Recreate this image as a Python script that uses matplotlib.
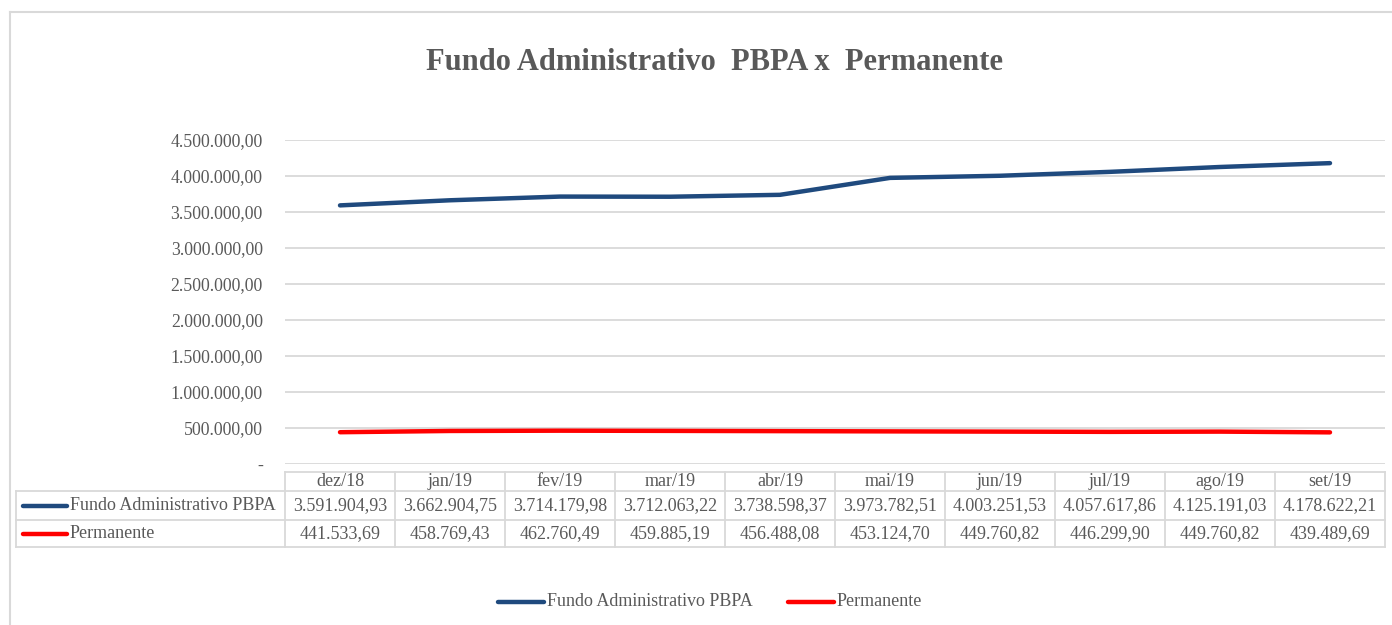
import matplotlib
matplotlib.use("Agg")
import matplotlib.pyplot as plt
from matplotlib.lines import Line2D

# chart data
months = ["dez/18", "jan/19", "fev/19", "mar/19", "abr/19", "mai/19",
          "jun/19", "jul/19", "ago/19", "set/19"]
fundo = [3591904.93, 3662904.75, 3714179.98, 3712063.22, 3738598.37,
         3973782.51, 4003251.53, 4057617.86, 4125191.03, 4178622.21]
permanente = [441533.69, 458769.43, 462760.49, 459885.19, 456488.08,
              453124.70, 449760.82, 446299.90, 449760.82, 439489.69]
series_names = ["Fundo Administrativo PBPA", "Permanente"]
y_ticks = [0, 500000, 1000000, 1500000, 2000000, 2500000, 3000000,
           3500000, 4000000, 4500000]

W, H = 1392, 625
BLUE = "#1f4a7e"
RED = "#ff0000"
GREY = "#595959"
GRID = "#d9d9d9"
FONT = "Liberation Serif"
FS = 13

plt.rcParams["font.family"] = FONT


def br(v):
    # brazilian number format 1.234.567,89
    s = f"{v:,.2f}"
    return s.replace(",", "X").replace(".", ",").replace("X", ".")


def fx(px):
    return px / W


def fy(py):
    return 1 - py / H


fig = plt.figure(figsize=(W / 100, H / 100), dpi=100)

# outer chart border
fig.add_artist(Line2D([fx(10), fx(W)], [fy(12), fy(12)], color=GRID, lw=1.5))
fig.add_artist(Line2D([fx(10), fx(10)], [fy(12), fy(H)], color=GRID, lw=1.5))

fig.text(fx(714), fy(62), "Fundo Administrativo  PBPA x  Permanente",
         ha="center", va="center", fontsize=22, fontweight="bold", color=GREY)

left, right, top, bottom = 285, 1385, 140, 464
ax = fig.add_axes([fx(left), fy(bottom), fx(right - left), (bottom - top) / H])
x = list(range(len(months)))
ax.plot(x, fundo, color=BLUE, lw=3.2, solid_capstyle="round", zorder=3)
ax.plot(x, permanente, color=RED, lw=3.2, solid_capstyle="round", zorder=3)
ax.set_xlim(-0.5, len(months) - 0.5)
ax.set_ylim(0, 4500000)
ax.set_yticks(y_ticks)
ax.set_yticklabels(["-"] + [br(v) for v in y_ticks[1:]])
ax.set_xticks([])
ax.tick_params(axis="y", length=0, pad=16, labelsize=12.8, labelcolor=GREY)
for lab in ax.get_yticklabels():
    lab.set_fontfamily(FONT)
ax.grid(axis="y", color=GRID, lw=1.3)
ax.set_axisbelow(True)
for s in ax.spines.values():
    s.set_visible(False)

# data table under the chart
col_w = (right - left) / len(months)
r_head, r1, r2, r_end = 472, 491, 520, 547
tleft = 16


def hline(x0, x1, y):
    fig.add_artist(Line2D([fx(x0), fx(x1)], [fy(y), fy(y)], color=GRID, lw=1.3))


def vline(xp, y0, y1):
    fig.add_artist(Line2D([fx(xp), fx(xp)], [fy(y0), fy(y1)], color=GRID, lw=1.3))


hline(left, right, r_head)
hline(tleft, right, r1)
hline(tleft, right, r2)
hline(tleft, right, r_end)
vline(tleft, r1, r_end)
for i in range(len(months) + 1):
    vline(left + i * col_w, r_head, r_end)

for i, m in enumerate(months):
    cx = left + (i + 0.5) * col_w
    fig.text(fx(cx), fy((r_head + r1) / 2), m, ha="center", va="center",
             fontsize=FS, color=GREY)
    fig.text(fx(cx), fy((r1 + r2) / 2), br(fundo[i]), ha="center", va="center",
             fontsize=FS, color=GREY)
    fig.text(fx(cx), fy((r2 + r_end) / 2), br(permanente[i]), ha="center",
             va="center", fontsize=FS, color=GREY)

for (yc, col, name) in [((r1 + r2) / 2, BLUE, series_names[0]),
                        ((r2 + r_end) / 2, RED, series_names[1])]:
    fig.add_artist(Line2D([fx(23), fx(67)], [fy(yc), fy(yc)], color=col, lw=3.2,
                          solid_capstyle="round"))
    fig.text(fx(70), fy(yc), name, ha="left", va="center", fontsize=FS, color=GREY)

# legend at bottom
ly = 602
for (x0, col, name) in [(498, BLUE, series_names[0]), (788, RED, series_names[1])]:
    fig.add_artist(Line2D([fx(x0), fx(x0 + 46)], [fy(ly), fy(ly)], color=col, lw=3.2,
                          solid_capstyle="round"))
    fig.text(fx(x0 + 49), fy(ly), name, ha="left", va="center", fontsize=FS, color=GREY)

fig.savefig("out.png", dpi=100, facecolor="white")
